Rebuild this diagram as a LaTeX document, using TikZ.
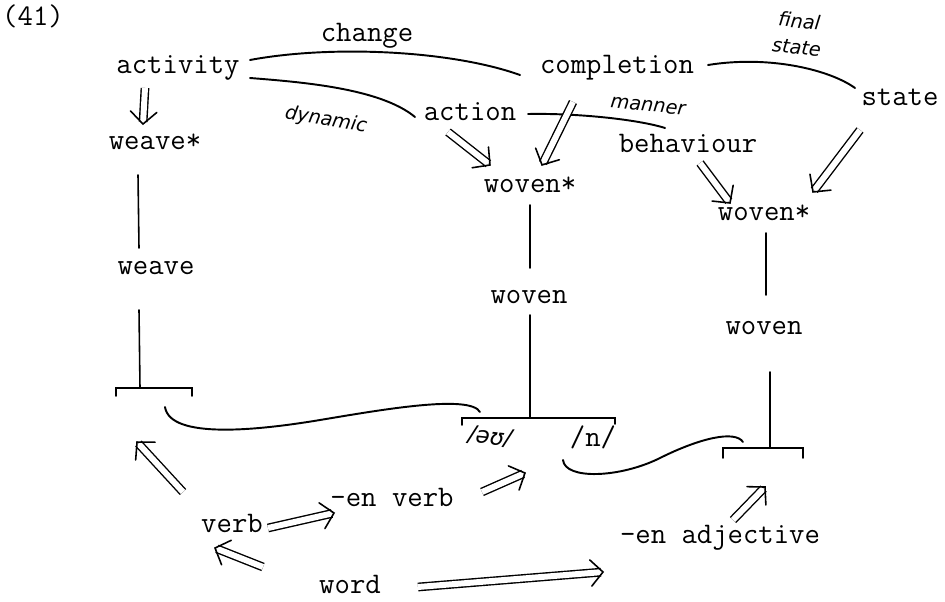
\documentclass[tikz,border=0pt]{standalone}
\usepackage{fontspec}
\newfontfamily\handfont{DejaVu Sans}
\usepackage{tikz}
\usetikzlibrary{arrows.meta,calc,decorations.markings}
\begin{document}
\begin{tikzpicture}[x=0.02cm,y=-0.02cm,font=\ttfamily\fontsize{17}{20}\selectfont,line cap=round,
  link/.style={line width=1.1pt},
  stem/.style={line width=0.9pt},
  imp/.style={double,double distance=3.4pt,line width=0.8pt,line cap=butt,shorten >=1.2pt,
    postaction={decorate,decoration={markings,mark=at position 1 with {
      \pgfsetshortenend{0pt}\pgfsetarrows{-}\pgfsetlinewidth{0.9pt}\pgfsetroundcap\pgfsetmiterjoin
      \pgfpathmoveto{\pgfpoint{-7pt}{7.5pt}}\pgfpathlineto{\pgfpointorigin}
      \pgfpathlineto{\pgfpoint{-7pt}{-7.5pt}}\pgfusepath{stroke}}}}},
  hand/.style={font=\handfont\itshape\fontsize{11}{12}\selectfont,inner sep=0pt}]
\useasboundingbox (0,0) rectangle (945,601);
\node (num) at (33,16) {(41)};
% top row
\node (activity) at (178,68) {activity};
\node (completion) at (617,68) {completion};
\node (state) at (900,97) {state};
\node (action) at (470,112) {action};
\node (behaviour) at (688,143) {behaviour};
\node (changelbl) at (367,36) {change};
\node[hand,rotate=-6,align=center] (finallbl) at (798,34) {final\\[3pt]state};
\node[hand,rotate=-10] (dynamiclbl) at (326,120) {dynamic};
\node[hand,rotate=-6] (mannerlbl) at (648,106) {manner};
% words
\node (weavestar) at (155,142) {weave*};
\node (wovenstarA) at (530,185) {woven*};
\node (wovenstarB) at (764,213) {woven*};
\node (weave) at (156,268) {weave};
\node (wovenA) at (529,297) {woven};
\node (wovenB) at (764,328) {woven};
\node[hand,rotate=-6,font=\handfont\itshape\fontsize{13}{13}\selectfont] (schwa) at (490,437) {/əʊ/};
\node (nasal) at (593,437) {/n/};
% categories
\node (verb) at (232,523) {verb};
\node (enverb) at (392,497) {-en verb};
\node (enadj) at (720,538) {-en adjective};
\node (word) at (350,584) {word};
\coordinate (brA) at (140,388);
\coordinate (brB) at (530,418);
\coordinate (brC) at (770,448);
% relations
\draw[link] ($(activity)+(72,-8)$) .. controls (330,45) and (450,50) .. ($(completion)+(-97,7)$);
\draw[link] ($(activity)+(72,10)$) .. controls (300,82) and (380,88) .. ($(action)+(-55,5)$);
\draw[link] ($(completion)+(91,-3)$) .. controls (770,55) and (830,70) .. ($(state)+(-45,-9)$);
\draw[link] ($(action)+(58,2)$) .. controls (580,113) and (640,120) .. ($(behaviour)+(-23,-15)$);
% stems
\draw[stem] ($(weavestar)+(-17,33)$) -- ($(weave)+(-17,-20)$);
\draw[stem] ($(weave)+(-17,42)$) -- (brA);
\draw[stem] ($(wovenstarA)+(0,20)$) -- ($(wovenA)+(1,-29)$);
\draw[stem] ($(wovenA)+(1,18)$) -- (brB);
\draw[stem] ($(wovenstarB)+(2,20)$) -- ($(wovenB)+(2,-33)$);
\draw[stem] ($(wovenB)+(6,44)$) -- (brC);
% brackets
\draw[stem] ($(brA)+(-24,8)$) -- ++(0,-8) -- ++(76,0) -- ++(0,8);
\draw[stem] ($(brB)+(-68,7)$) -- ++(0,-7) -- ++(153,0) -- ++(0,6);
\draw[stem] ($(brC)+(-47,10)$) -- ++(0,-10) -- ++(80,0) -- ++(0,10);
\draw[link] ($(brA)+(25,19)$) .. controls (170,440) and (260,430) .. (320,420)
  .. controls (380,410) and (470,394) .. ($(brB)+(-50,-6)$);
\draw[link] ($(nasal)+(-30,23)$) .. controls (565,480) and (620,478) .. (660,458)
  .. controls (700,438) and (735,430) .. ($(brC)+(-27,-6)$);
% inheritance
\draw[imp] ($(activity)+(-33,20)$) -- ($(weavestar)+(-12,-18)$);
\draw[imp] ($(action)+(-22,20)$) -- ($(wovenstarA)+(-40,-20)$);
\draw[imp] ($(completion)+(-44,34)$) -- ($(wovenstarA)+(12,-20)$);
\draw[imp] ($(behaviour)+(12,20)$) -- ($(wovenstarB)+(-34,-10)$);
\draw[imp] ($(state)+(-40,33)$) -- ($(wovenstarB)+(49,-21)$);
\draw[imp] ($(verb)+(-49,-31)$) -- ($(brA)+(-3,54)$);
\draw[imp] ($(verb)+(36,5)$) -- ($(enverb)+(-58,16)$);
\draw[imp] ($(enverb)+(90,-5)$) -- ($(brB)+(-5,55)$);
\draw[imp] ($(word)+(-87,-17)$) -- ($(verb)+(-17,25)$);
\draw[imp] ($(word)+(68,3)$) -- ($(enadj)+(-117,34)$);
\draw[imp] ($(enadj)+(13,-18)$) -- ($(brC)+(-5,39)$);
\end{tikzpicture}
\end{document}
